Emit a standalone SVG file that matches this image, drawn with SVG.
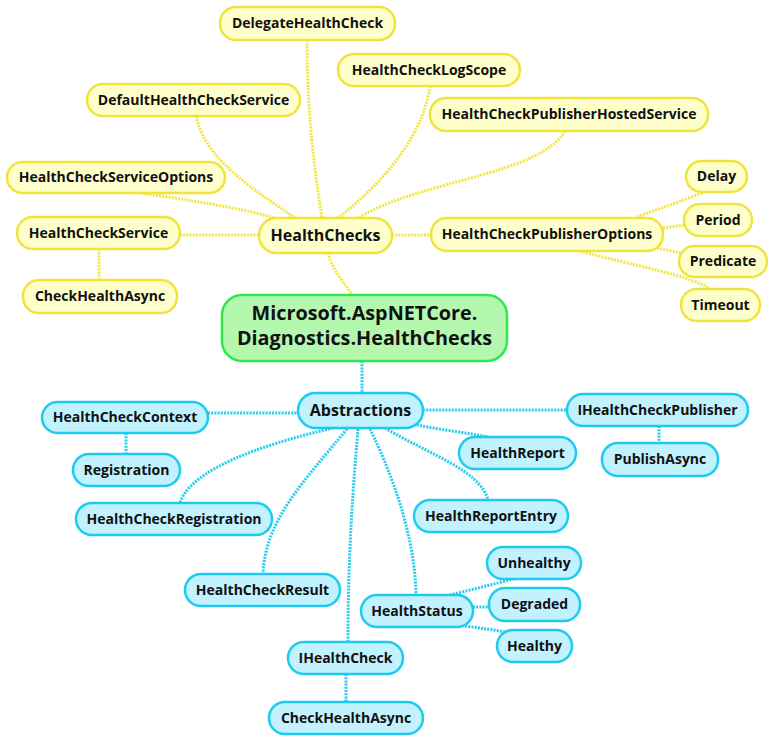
<svg xmlns="http://www.w3.org/2000/svg" width="773" height="740" viewBox="0 0 773 740">
<style>
.y rect{fill:#ffffcc;stroke:#f0e43c;stroke-width:2.5}
.b rect{fill:#c2f2fe;stroke:#1ecbf0;stroke-width:2.5}
.r rect{fill:#b4f8b0;stroke:#2ee84a;stroke-width:2.5}
text{font-family:"Open Sans","Liberation Sans",sans-serif;font-weight:bold;font-size:14px;fill:#111;text-anchor:middle}
.big{font-size:16px}
.root{font-size:19.8px}
.cy path{fill:none;stroke:#f2e640;stroke-width:3;stroke-dasharray:2 1.2}
.cb path{fill:none;stroke:#22cdf0;stroke-width:3;stroke-dasharray:2 1.2}
</style>
<rect width="773" height="740" fill="#fff"/>
<g id="connectors">
<g class="cy">
<path d="M307,40 C307,120 316,180 322,218"/>
<path d="M196,116 C205,160 255,190 295,218"/>
<path d="M430,86 C422,140 380,185 338,218"/>
<path d="M565,131 C540,175 420,180 358,218"/>
<path d="M140,193 C190,200 240,208 275,218"/>
<path d="M180,235 L259,235"/>
<path d="M99,249 L99,280"/>
<path d="M392,235 L431,235"/>
<path d="M328,253 C332,270 345,283 352,295"/>
<path d="M637,217 C660,208 685,200 704,192"/>
<path d="M663,228 L684,225"/>
<path d="M657,248 L680,253"/>
<path d="M580,251 C630,265 690,275 710,289"/>
</g>
<g class="cb">
<path d="M362,361 L362,393"/>
<path d="M208,413 L298,413"/>
<path d="M126,433 L126,454"/>
<path d="M333,428 C260,445 190,470 180,503"/>
<path d="M347,429 C305,480 265,520 263,574"/>
<path d="M358,429 C352,500 348,560 348,642"/>
<path d="M370,429 C395,480 415,540 416,595"/>
<path d="M385,428 C430,455 480,470 488,500"/>
<path d="M417,425 C440,430 470,433 488,437"/>
<path d="M423,410 L567,410"/>
<path d="M659,426 L659,443"/>
<path d="M346,674 L346,702"/>
<path d="M450,595 C470,590 495,584 513,579"/>
<path d="M473,607 L489,607"/>
<path d="M465,626 C480,628 495,630 505,632"/>
</g>
</g>
<g id="DelegateHealthCheck" class="y"><rect x="220" y="7" width="175" height="33" rx="16"/><text x="307.5" y="28">DelegateHealthCheck</text></g>
<g id="HealthCheckLogScope" class="y"><rect x="338" y="54" width="182" height="32" rx="16"/><text x="429" y="75">HealthCheckLogScope</text></g>
<g id="DefaultHealthCheckService" class="y"><rect x="87" y="84" width="213" height="32" rx="16"/><text x="193.5" y="105">DefaultHealthCheckService</text></g>
<g id="HealthCheckPublisherHostedService" class="y"><rect x="430" y="98" width="278" height="33" rx="16"/><text x="569" y="119">HealthCheckPublisherHostedService</text></g>
<g id="HealthCheckServiceOptions" class="y"><rect x="7" y="162" width="218" height="31" rx="15.5"/><text x="116" y="182">HealthCheckServiceOptions</text></g>
<g id="HealthCheckService" class="y"><rect x="17" y="217" width="163" height="32" rx="16"/><text x="98.5" y="238">HealthCheckService</text></g>
<g id="CheckHealthAsync1" class="y"><rect x="23" y="280" width="154" height="33" rx="16"/><text x="100" y="301">CheckHealthAsync</text></g>
<g id="HealthChecks" class="y"><rect x="259" y="218" width="133" height="35" rx="17.5"/><text class="big" x="325.5" y="241">HealthChecks</text></g>
<g id="HealthCheckPublisherOptions" class="y"><rect x="431" y="218" width="232" height="33" rx="16"/><text x="547" y="239">HealthCheckPublisherOptions</text></g>
<g id="Delay" class="y"><rect x="686" y="161" width="61" height="31" rx="15.5"/><text x="716.5" y="181">Delay</text></g>
<g id="Period" class="y"><rect x="684" y="204" width="68" height="32" rx="16"/><text x="718" y="225">Period</text></g>
<g id="Predicate" class="y"><rect x="679" y="246" width="88" height="31" rx="15.5"/><text x="723" y="266">Predicate</text></g>
<g id="Timeout" class="y"><rect x="681" y="289" width="79" height="32" rx="16"/><text x="720.5" y="310">Timeout</text></g>
<g id="Root" class="r"><rect x="222" y="295" width="285" height="66" rx="20"/><text class="root" x="364.5" y="320">Microsoft.AspNETCore.</text><text class="root" x="364.5" y="345">Diagnostics.HealthChecks</text></g>
<g id="Abstractions" class="b"><rect x="298" y="393" width="125" height="35" rx="17.5"/><text class="big" x="360.5" y="416">Abstractions</text></g>
<g id="HealthCheckContext" class="b"><rect x="42" y="402" width="166" height="31" rx="15.5"/><text x="125" y="422">HealthCheckContext</text></g>
<g id="Registration" class="b"><rect x="73" y="454" width="107" height="32" rx="16"/><text x="126.5" y="475">Registration</text></g>
<g id="HealthCheckRegistration" class="b"><rect x="76" y="503" width="196" height="32" rx="16"/><text x="174" y="524">HealthCheckRegistration</text></g>
<g id="HealthCheckResult" class="b"><rect x="185" y="574" width="155" height="32" rx="16"/><text x="262.5" y="595">HealthCheckResult</text></g>
<g id="IHealthCheck" class="b"><rect x="288" y="642" width="115" height="32" rx="16"/><text x="345.5" y="663">IHealthCheck</text></g>
<g id="CheckHealthAsync2" class="b"><rect x="269" y="702" width="154" height="32" rx="16"/><text x="346" y="723">CheckHealthAsync</text></g>
<g id="HealthStatus" class="b"><rect x="361" y="595" width="112" height="32" rx="16"/><text x="417" y="616">HealthStatus</text></g>
<g id="IHealthCheckPublisher" class="b"><rect x="567" y="394" width="181" height="32" rx="16"/><text x="657.5" y="415">IHealthCheckPublisher</text></g>
<g id="PublishAsync" class="b"><rect x="602" y="443" width="116" height="33" rx="16"/><text x="660" y="464">PublishAsync</text></g>
<g id="HealthReport" class="b"><rect x="459" y="437" width="117" height="32" rx="16"/><text x="517.5" y="458">HealthReport</text></g>
<g id="HealthReportEntry" class="b"><rect x="414" y="500" width="154" height="32" rx="16"/><text x="491" y="521">HealthReportEntry</text></g>
<g id="Unhealthy" class="b"><rect x="487" y="547" width="94" height="32" rx="16"/><text x="534" y="568">Unhealthy</text></g>
<g id="Degraded" class="b"><rect x="489" y="588" width="91" height="33" rx="16"/><text x="534.5" y="609">Degraded</text></g>
<g id="Healthy" class="b"><rect x="497" y="630" width="75" height="32" rx="16"/><text x="534.5" y="651">Healthy</text></g>
</svg>
